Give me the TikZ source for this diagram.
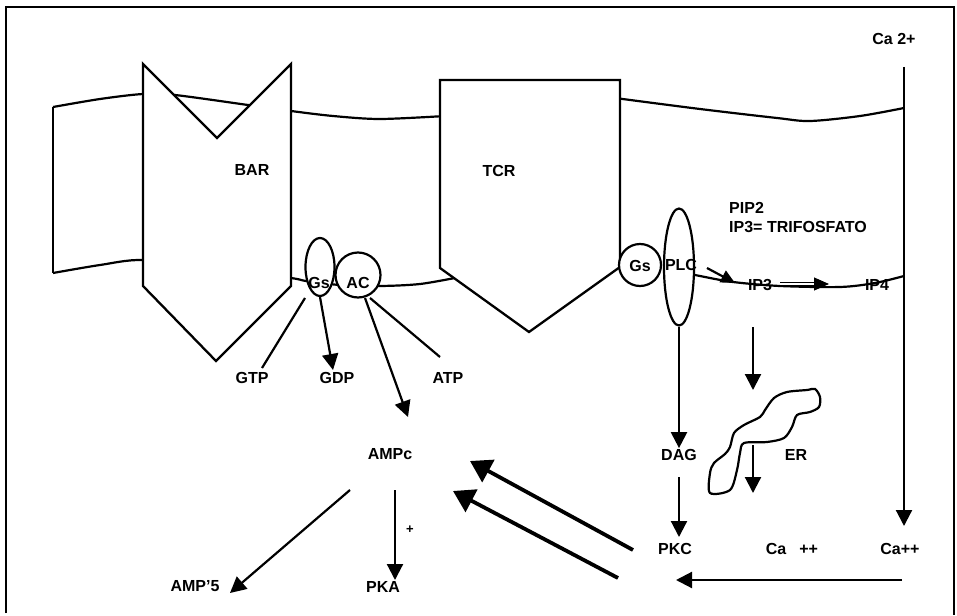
\documentclass[tikz,border=0pt]{standalone}
\usepackage{fontspec}
\setmainfont{Liberation Sans}
\usetikzlibrary{arrows.meta,shapes.geometric}
\begin{document}
\begin{tikzpicture}[x=1pt,y=-1pt,
  outl/.style={line width=2.3pt, line join=miter},
  memb/.style={line width=2.2pt},
  lbl/.style={font=\fontsize{16}{18}\selectfont\bfseries, inner sep=1pt},
  arr/.style={line width=2.2pt, -{Triangle[length=16pt,width=16pt]}},
  smallarr/.style={line width=2.2pt, -{Triangle[length=14pt,width=13pt]}},
  bigarr/.style={line width=3.8pt, -{Triangle[length=21pt,width=25pt]}},
  plain/.style={line width=2.2pt},
  blob/.style={draw, line width=2.2pt, fill=white, inner sep=0pt}
]
\useasboundingbox (0,0) rectangle (957,615);
% frame
\draw[line width=1.4pt] (6,613) -- (6,7) -- (954,7) -- (954,615);

% membrane (behind receptors)
\draw[memb] plot[smooth] coordinates {(53,107) (100,99) (143,94) (175,95) (248,105) (291,111) (333,116) (380,119) (445,116)};
\draw[memb] plot[smooth] coordinates {(53,273) (100,265) (143,260) (217,268) (291,278) (306,281) (340,285) (380,286) (420,284) (460,277)};
\draw[memb] (53,107) -- (53,273);
\draw[memb] plot[smooth] coordinates {(615,98) (700,109) (777,118) (810,121) (860,116) (904,108)};
\draw[memb] plot[smooth] coordinates {(675,271) (700,276) (733,282) (780,286) (840,287) (875,283) (904,276)};

% receptors
\draw[outl, fill=white] (143,64) -- (217,138) -- (291,64) -- (291,286) -- (216,361) -- (143,286) -- cycle;
\draw[outl, fill=white] (440,80) -- (620,80) -- (620,267) -- (529,332) -- (440,268) -- cycle;

% proteins
\node[blob, ellipse, minimum width=29pt, minimum height=58pt] (gs1) at (320,267) {};
\node[blob, circle, minimum size=45pt] (ac) at (358,275) {};
\node[blob, circle, minimum size=42pt] (gs2) at (640,265) {};
\node[blob, ellipse, minimum width=30pt, minimum height=117pt] (plc) at (679,267) {};

% ER
\draw[line width=2.2pt, fill=white] plot[smooth cycle, tension=0.5] coordinates {
 (710,473) (714,463) (725,454) (730,447) (734,433) (744,425) (760,417) (765,410)
 (774,398) (787,392) (807,390) (815,389) (820,397) (819,407) (810,412) (797,415)
 (792,427) (784,438) (767,442) (744,443) (740,453) (737,470) (730,490) (710,493)};

% labels
\node[lbl] (bar) at (252,170) {BAR};
\node[lbl] (tcr) at (499,171) {TCR};
\node[lbl] (gs1t) at (319,283) {Gs};
\node[lbl] (act) at (358,283) {AC};
\node[lbl] (gs2t) at (640,266) {Gs};
\node[lbl] (plct) at (681,265) {PLC};
\node[lbl, anchor=west] (pip) at (728,208) {PIP2};
\node[lbl, anchor=west] (ip3t) at (728,227) {IP3= TRIFOSFATO};
\node[lbl] (ca2) at (894,39) {Ca 2+};
\node[lbl] (ip3) at (760,285) {IP3};
\node[lbl] (ip4) at (877,285) {IP4};
\node[lbl] (gtp) at (252,378) {GTP};
\node[lbl] (gdp) at (337,378) {GDP};
\node[lbl] (atp) at (448,378) {ATP};
\node[lbl] (ampc) at (390,454) {AMPc};
\node[lbl] (amp5) at (195,586) {AMP'5};
\node[lbl] (pka) at (383,587) {PKA};
\node[lbl, font=\fontsize{13}{15}\selectfont\bfseries] (plus) at (410,530) {+};
\node[lbl] (dag) at (679,455) {DAG};
\node[lbl] (pkc) at (675,549) {PKC};
\node[lbl] (er) at (796,455) {ER};
\node[lbl] (ca) at (792,549) {Ca\hspace{13pt}++};
\node[lbl] (capp) at (900,549) {Ca++};

% connector end points
\coordinate (gtpS) at (305,298);  \coordinate (gtpE) at (262,368);
\coordinate (gdpE) at (333,370);
\coordinate (acS1) at (365,298);  \coordinate (ampcT) at (408,417);
\coordinate (acS2) at (370,298);  \coordinate (atpE) at (440,357);
\coordinate (ampS1) at (350,490); \coordinate (amp5T) at (230,593);
\coordinate (ampS2) at (395,490); \coordinate (pkaT) at (395,580);
\coordinate (plcS) at (707,268);  \coordinate (ip3T) at (735,283);
\coordinate (ip3S) at (780,284);  \coordinate (ip4T) at (829,284);
\coordinate (dagS) at (679,477);  \coordinate (pkcT) at (679,537);
\coordinate (erS1) at (753,327);  \coordinate (erT1) at (753,390);
\coordinate (erS2) at (753,445);  \coordinate (erT2) at (753,493);
\coordinate (caS) at (904,67);    \coordinate (caT) at (904,526);
\coordinate (botS) at (902,580);  \coordinate (botT) at (676,580);
\coordinate (pkcS1) at (633,550); \coordinate (ampcT1) at (470,461);
\coordinate (pkcS2) at (618,578); \coordinate (ampcT2) at (453,491);

% connectors
\draw[plain] (gtpS) -- (gtpE);
\draw[arr] (gs1.south) -- (gdpE);
\draw[arr] (acS1) -- (ampcT);
\draw[plain] (acS2) -- (atpE);
\draw[arr] (ampS1) -- (amp5T);
\draw[arr] (ampS2) -- (pkaT);
\draw[smallarr] (plcS) -- (ip3T);
\draw[double, double distance=1.6pt, line width=1pt, -{Triangle[length=15pt,width=13pt]}] (ip3S) -- (ip4T);
\draw[arr] (plc.south) -- (dag.north);
\draw[arr] (dagS) -- (pkcT);
\draw[arr] (erS1) -- (erT1);
\draw[arr] (erS2) -- (erT2);
\draw[arr] (caS) -- (caT);
\draw[arr] (botS) -- (botT);
\draw[bigarr] (pkcS1) -- (ampcT1);
\draw[bigarr] (pkcS2) -- (ampcT2);
\end{tikzpicture}
\end{document}
